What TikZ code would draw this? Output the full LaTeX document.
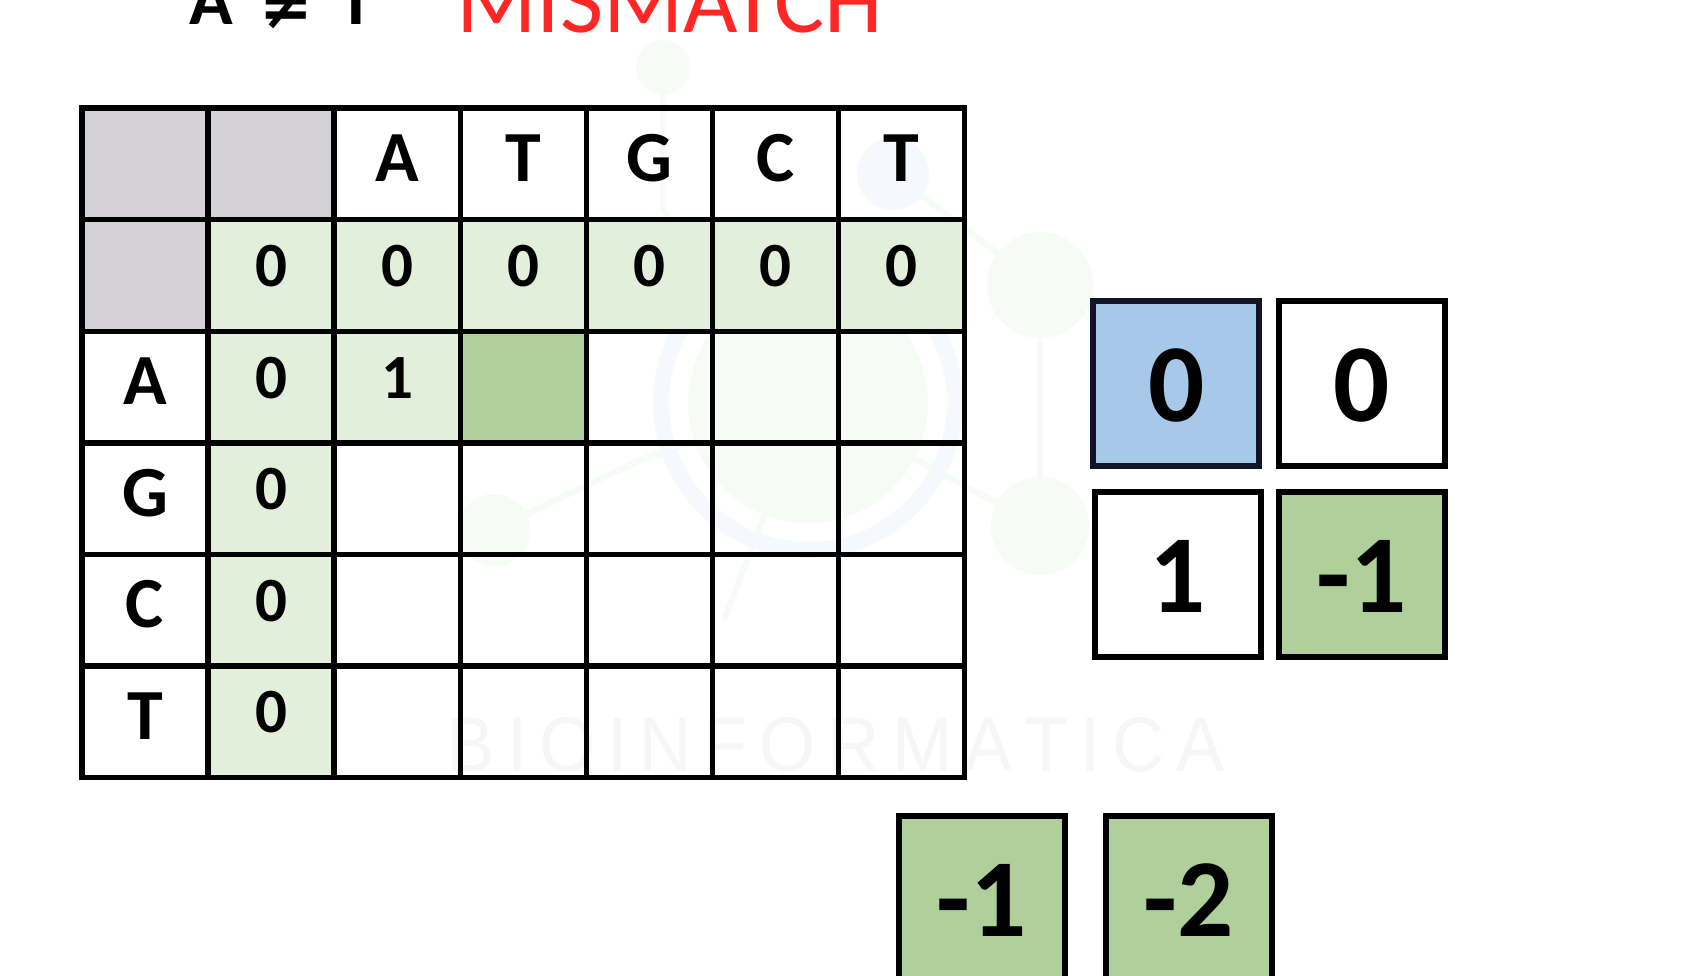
\documentclass[tikz,border=0pt]{standalone}
\usepackage{fontspec}
\usepackage{graphicx}
\setmainfont{Carlito}
\newfontfamily\dv{DejaVu Sans}
\definecolor{hdrgray}{RGB}{212,210,214}
\definecolor{lgreen}{RGB}{226,239,218}
\definecolor{mgreen}{RGB}{175,208,155}
\definecolor{lblue}{RGB}{166,200,233}
\definecolor{navyline}{RGB}{18,22,36}
\definecolor{mmred}{RGB}{255,38,38}
\definecolor{wmgreen}{RGB}{246,251,246}
\definecolor{wmblue}{RGB}{245,249,254}
\definecolor{wmtext}{RGB}{246,246,246}
\begin{document}
\begin{tikzpicture}[x=1pt,y=-1pt,
  cellbox/.style={inner sep=0pt, minimum width=126.1pt, minimum height=111.6pt, text depth=0pt},
  lettercell/.style={cellbox, text height=35pt, font=\fontsize{72}{72}\selectfont\bfseries},
  numcell/.style={cellbox, text height=22pt, font=\fontsize{63}{63}\selectfont\bfseries},
  bigbox/.style={draw=black, line width=6pt, inner sep=0pt, minimum width=166pt, minimum height=165pt, text height=76pt, text depth=0pt, font=\fontsize{111}{111}\selectfont\bfseries},
  gridline/.style={line width=5.5pt, line cap=rect},
  wmcircle/.style={fill=wmgreen, draw=none},
  wmline/.style={draw=wmgreen, line width=6pt}
]
\useasboundingbox (0,0) rectangle (1698,976);
\clip (0,0) rectangle (1698,976);
\fill[white] (0,0) rectangle (1698,976);

% faint watermark
\draw[wmline] (663,67) -- (663,210) -- (808,403);
\draw[wmline] (1040,285) -- (1040,526);
\draw[wmline] (893,174) -- (1040,285);
\draw[wmline] (494,530) -- (640,460) -- (808,403);
\draw[wmline] (1040,526) -- (808,403);
\draw[wmline] (724,620) -- (808,403);
\draw[draw=wmblue, line width=16pt] (808,403) circle (147);
\fill[wmgreen] (808,403) circle (120);
\fill[wmblue] (893,174) circle (36);
\fill[wmcircle] (663,67) circle (27);
\fill[wmcircle] (1040,285) circle (53);
\fill[wmcircle] (1040,526) circle (49);
\fill[wmcircle] (494,530) circle (36);
\node[inner sep=0, anchor=center, text=wmtext] (wmark) at (836,745)
  {\resizebox{778pt}{54pt}{\fontspec{Liberation Sans}B\,I\,O\,I\,N\,F\,O\,R\,M\,A\,T\,I\,C\,A}};

% title
\node[font=\fontsize{72}{72}\selectfont\bfseries, anchor=base, inner sep=0pt] (tA) at (211,25) {A};
\node[font=\dv\fontsize{64}{64}\selectfont\bfseries, anchor=center, inner sep=0pt] (tne) at (286.5,8) {≠};
\node[font=\fontsize{72}{72}\selectfont\bfseries, anchor=base, inner sep=0pt] (tT) at (356,25) {T};
\node[font=\fontsize{94}{94}\selectfont, text=mmred, anchor=base west, inner sep=0pt] (tmm) at (456,33) {MISMATCH};

% table cells
\foreach \r/\c/\s/\f/\t in {
  0/0/lettercell/hdrgray/{}, 0/1/lettercell/hdrgray/{},
  0/2/lettercell/none/A, 0/3/lettercell/none/T, 0/4/lettercell/none/G, 0/5/lettercell/none/C, 0/6/lettercell/none/T,
  1/0/numcell/hdrgray/{}, 1/1/numcell/lgreen/0, 1/2/numcell/lgreen/0, 1/3/numcell/lgreen/0,
  1/4/numcell/lgreen/0, 1/5/numcell/lgreen/0, 1/6/numcell/lgreen/0,
  2/0/lettercell/none/A, 2/1/numcell/lgreen/0, 2/2/numcell/lgreen/1, 2/3/numcell/mgreen/{},
  3/0/lettercell/none/G, 3/1/numcell/lgreen/0,
  4/0/lettercell/none/C, 4/1/numcell/lgreen/0,
  5/0/lettercell/none/T, 5/1/numcell/lgreen/0}
  \node[\s, fill=\f] (c\r\c) at ({145.05+126.1*\c},{163.9+111.6*\r}) {\t};

% grid lines
\foreach \i in {0,...,7}
  \draw[gridline] ({82+126.1*\i},108.1) -- ({82+126.1*\i},777.7);
\foreach \j in {0,...,6}
  \draw[gridline] (82,{108.1+111.6*\j}) -- (964.7,{108.1+111.6*\j});

% right boxes
\node[bigbox, fill=lblue, draw=navyline] (bA) at (1176.4,383.8) {0};
\node[bigbox, fill=white] (bB) at (1362,383.8) {0};
\node[bigbox, fill=white] (bC) at (1177.7,574) {1};
\node[bigbox, fill=mgreen] (bD) at (1362,574) {-1};

% bottom boxes
\node[bigbox, fill=mgreen] (bE) at (981.9,898.2) {-1};
\node[bigbox, fill=mgreen] (bF) at (1189,898.2) {-2};
\end{tikzpicture}
\end{document}
